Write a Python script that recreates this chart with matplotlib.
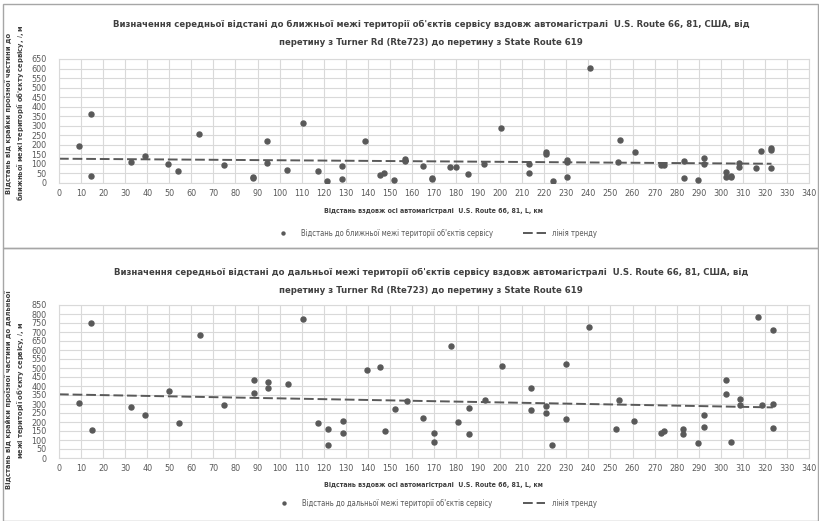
import numpy as np
import matplotlib
matplotlib.use('Agg')
from matplotlib import pyplot as plt
from matplotlib.patches import Rectangle

plt.rcParams['font.family'] = ['DejaVu Sans']
plt.rcParams['font.stretch'] = 'condensed'

# ближня межа
near_x = [9.1, 14.4, 14.7, 32.7, 39.0, 49.5, 53.9, 63.5, 74.7, 87.9, 87.9, 94.3, 94.3,
          103.3, 110.7, 117.3, 121.7, 128.4, 128.4, 138.9, 145.3, 147.5, 151.7, 157.0, 157.0,
          164.8, 169.3, 169.3, 177.1, 180.2, 185.3, 192.5, 200.2, 213.1, 213.1, 221.0, 221.0,
          224.0, 230.3, 230.3, 230.3, 240.7, 253.2, 254.2, 261.1, 272.8, 274.3, 283.2, 283.2,
          289.7, 292.4, 292.4, 302.2, 302.2, 304.6, 304.6, 308.2, 308.2, 316.2, 318.3, 323.0,
          323.0, 323.0]
near_y = [194, 360, 35, 108, 143, 98, 65, 257, 94, 30, 24, 220, 105,
          68, 314, 61, 12, 89, 23, 220, 40, 51, 17, 127, 117,
          91, 28, 19, 86, 84, 45, 101, 288, 98, 52, 161, 150,
          10, 119, 108, 31, 604, 108, 225, 162, 93, 93, 113, 28,
          17, 131, 101, 56, 30, 38, 31, 103, 86, 80, 168, 183,
          175, 77]

# дальня межа
far_x = [9.2, 14.4, 14.8, 32.8, 39.0, 49.8, 54.2, 63.8, 75.0, 88.2, 88.2, 94.6, 94.6,
         103.6, 110.8, 117.4, 122.1, 121.8, 128.7, 128.7, 139.5, 145.5, 147.9, 152.2, 157.6,
         165.1, 169.9, 169.9, 177.6, 180.9, 185.7, 185.7, 192.9, 200.7, 213.8, 213.8, 220.7,
         220.7, 223.3, 229.8, 229.8, 240.2, 252.7, 253.8, 260.8, 272.7, 274.1, 283.0, 283.0,
         289.7, 292.4, 292.4, 302.4, 302.4, 304.7, 308.5, 308.5, 316.7, 318.8, 323.6, 323.6,
         323.6]
far_y = [305, 752, 155, 286, 240, 371, 192, 682, 294, 434, 362, 425, 388,
         412, 770, 194, 161, 70, 207, 139, 490, 504, 148, 272, 314,
         225, 137, 87, 625, 200, 277, 131, 323, 512, 388, 266, 288,
         251, 74, 523, 214, 730, 161, 320, 207, 137, 152, 159, 131,
         83, 238, 174, 431, 355, 87, 327, 294, 783, 294, 713, 299,
         166]

x_ticks = np.arange(0, 341, 10)

titles = ['Визначення середньої відстані до ближньої межі території об\'єктів сервісу вздовж автомагістралі  U.S. Route 66, 81, США, від\nперетину з Turner Rd (Rte723) до перетину з State Route 619',
          'Визначення середньої відстані до дальньої межі території об\'єктів сервісу вздовж автомагістралі  U.S. Route 66, 81, США, від\nперетину з Turner Rd (Rte723) до перетину з State Route 619']
ylabels = ['Відстань від крайки проїзної частини до\nближньої межі території об\'єкту сервісу, $\\mathit{l}$, м',
           'Відстань від крайки проїзної частини до дальньої\nмежі території об\'єкту сервісу, $\\mathit{l}$, м']
legend_names = ['Відстань до ближньої межі території об\'єктів сервісу',
                'Відстань до дальньої межі території об\'єктів сервісу']
xlabel = 'Відстань вздовж осі автомагістралі  U.S. Route 66, 81, L, км'

W, H = 820, 521
fig = plt.figure(figsize=(W / 100, H / 100), dpi=100)

# рамки діаграм
fig.add_artist(Rectangle((3 / W, 1 - 248 / H), 815 / W, 244 / H, transform=fig.transFigure,
                         fill=False, edgecolor='#a6a6a6', lw=1))
fig.add_artist(Rectangle((3 / W, 0), 815 / W, 1 - 248 / H, transform=fig.transFigure,
                         fill=False, edgecolor='#a6a6a6', lw=1))

panels = [
    dict(xs=near_x, ys=near_y, ymax=650, rect=[59 / W, 1 - 183 / H, 750 / W, 124 / H],
         title_y=1 - 33.5 / H, ylab_y=1 - 113 / H, xlab_y=1 - 211 / H, leg_y=1 - 233 / H),
    dict(xs=far_x, ys=far_y, ymax=850, rect=[59 / W, 1 - 458 / H, 750 / W, 153 / H],
         title_y=1 - 281.5 / H, ylab_y=1 - 390 / H, xlab_y=1 - 485 / H, leg_y=1 - 503 / H),
]

grey = '#595959'
for k, p in enumerate(panels):
    ax = fig.add_axes(p['rect'])
    xs = np.array(p['xs'])
    ys = np.array(p['ys'])
    pts, = ax.plot(xs, ys, 'o', color=grey, ms=3.6, zorder=3)

    # лінійний тренд
    a, b = np.polyfit(xs, ys, 1)
    tx = np.array([0, xs.max()])
    tr, = ax.plot(tx, a * tx + b, color=grey, lw=1.4, dashes=(5, 2), zorder=2)

    ax.set_xlim(0, 340)
    ax.set_ylim(0, p['ymax'])
    ax.set_xticks(x_ticks)
    ax.set_yticks(np.arange(0, p['ymax'] + 1, 50))
    ax.grid(True, color='#d9d9d9', lw=0.8)
    ax.set_axisbelow(True)
    for s in ax.spines.values():
        s.set_color('#d9d9d9')
        s.set_linewidth(0.8)
    ax.tick_params(length=0, labelsize=6.5, colors=grey)
    ax.tick_params(axis='y', pad=9)
    ax.tick_params(axis='x', pad=4)

    fig.text(0.526, p['title_y'], titles[k], ha='center', va='center', fontsize=6.8,
             fontweight='bold', color='#404040', linespacing=2.2)
    fig.text(0.019, p['ylab_y'], ylabels[k], ha='center', va='center', rotation=90,
             fontsize=5.4, fontweight='bold', color='#404040', linespacing=1.3)
    fig.text(0.528, p['xlab_y'], xlabel, ha='center', va='center', fontsize=5,
             fontweight='bold', color='#404040')
    fig.legend([pts, tr], [legend_names[k], 'лінія тренду'], loc='center',
               bbox_to_anchor=(0.53, p['leg_y']), ncol=2, frameon=False, fontsize=5.5,
               labelcolor=grey, columnspacing=4, handlelength=3, handletextpad=0.8,
               markerscale=0.6)

fig.savefig('out.png', dpi=100)
